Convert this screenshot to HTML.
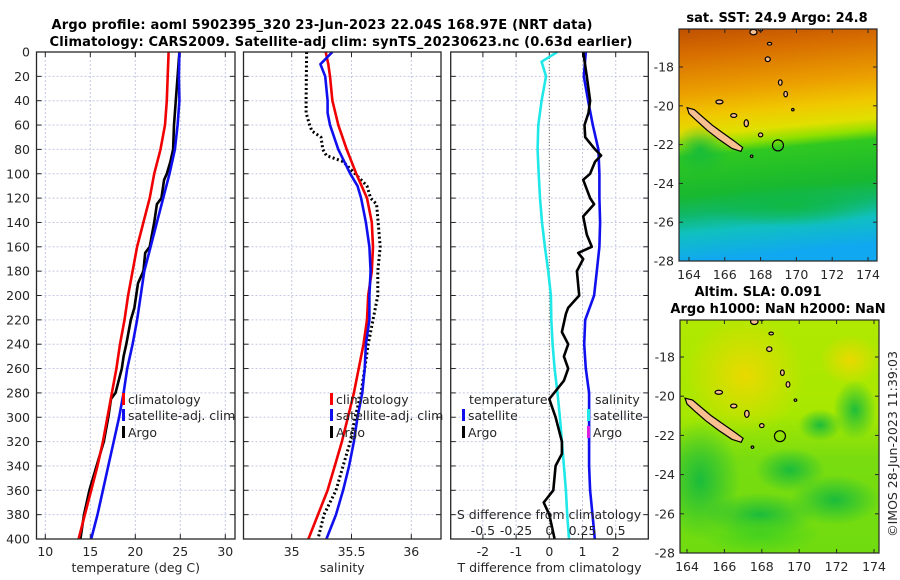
<!DOCTYPE html>
<html><head><meta charset="utf-8">
<style>
html,body{margin:0;padding:0;background:#fff;}
svg{display:block;font-family:"DejaVu Sans","Liberation Sans",sans-serif;}
.tk{font-size:12.5px;fill:#262626;}
.tt{font-size:13px;font-weight:bold;fill:#000;}
</style></head>
<body>
<svg id="fig" width="900" height="580" viewBox="0 0 900 580" xmlns="http://www.w3.org/2000/svg">
<defs>
<linearGradient id="sstg" x1="0" y1="0" x2="0.08" y2="1">
<stop offset="0" stop-color="#c05000"/>
<stop offset="0.12" stop-color="#d87000"/>
<stop offset="0.28" stop-color="#eca000"/>
<stop offset="0.38" stop-color="#f0c800"/>
<stop offset="0.46" stop-color="#e0e000"/>
<stop offset="0.51" stop-color="#90e000"/>
<stop offset="0.55" stop-color="#30c820"/>
<stop offset="0.72" stop-color="#18b830"/>
<stop offset="0.8" stop-color="#10b868"/>
<stop offset="0.88" stop-color="#10c0c0"/>
<stop offset="1" stop-color="#10a8f0"/>
</linearGradient>
<linearGradient id="slag" x1="0" y1="0" x2="0" y2="1">
<stop offset="0" stop-color="#b0e800"/>
<stop offset="0.4" stop-color="#a8e800"/>
<stop offset="0.6" stop-color="#78dc10"/>
<stop offset="1" stop-color="#70dc10"/>
</linearGradient>
<radialGradient id="yb" cx="0.5" cy="0.5" r="0.5"><stop offset="0" stop-color="#f0d800" stop-opacity="0.9"/><stop offset="1" stop-color="#f0d800" stop-opacity="0"/></radialGradient>
<radialGradient id="gb" cx="0.5" cy="0.5" r="0.5"><stop offset="0" stop-color="#10b840" stop-opacity="0.9"/><stop offset="1" stop-color="#10b840" stop-opacity="0"/></radialGradient>
<radialGradient id="lg" cx="0.5" cy="0.5" r="0.5"><stop offset="0" stop-color="#40d020" stop-opacity="0.9"/><stop offset="1" stop-color="#40d020" stop-opacity="0"/></radialGradient>
<clipPath id="c1"><rect x="679" y="29" width="198" height="232"/></clipPath>
<clipPath id="c2"><rect x="680" y="320" width="199" height="233"/></clipPath>
</defs>
<g id="titles">
<text class="tt" x="322" y="29" text-anchor="middle" textLength="541">Argo profile: aoml 5902395_320 23-Jun-2023 22.04S 168.97E (NRT data)</text>
<text class="tt" x="341" y="46" text-anchor="middle" textLength="583">Climatology: CARS2009. Satellite-adj clim: synTS_20230623.nc (0.63d earlier)</text>
</g>
<g id="panels"></g>
<g id="maps"></g>
</svg>
<script>
// ---- data ----
const depthTicks = [0,20,40,60,80,100,120,140,160,180,200,220,240,260,280,300,320,340,360,380,400];
const tTicks = [10,15,20,25,30];
const sTicks = [35,35.5,36];
const dTicks = [-2,-1,0,1,2];
const sdTickLabels = ["-0.5","-0.25","0","0.25","0.5"];
const sdTickValues = [-0.5,-0.25,0,0.25,0.5];

const tClimDepth = [0,40,60,80,100,120,140,160,180,200,220,240,260,280,300,320,340,360,380,400];
const tClim = [23.7,23.5,23.3,22.8,22.1,21.6,20.9,20.2,19.7,19.2,18.8,18.3,17.9,17.4,16.9,16.4,15.8,15.1,14.4,13.7];
const tSatDepth = [0,20,40,60,80,90,100,120,140,160,180,200,220,240,260,280,300,320,340,360,380,400];
const tSat = [24.9,24.85,24.9,24.7,24.4,24.1,23.8,23.1,22.4,21.7,21.0,20.6,20.2,19.7,19.1,18.7,18.2,17.6,17.0,16.4,15.8,15.1];
const tArgoDepth = [0,60,80,90,100,105,120,125,140,160,165,180,190,200,210,220,240,250,260,280,285,300,320,340,360,370,380,400];
const tArgo = [24.9,24.3,24.2,23.9,23.5,23.2,22.9,22.4,22.1,21.6,21.1,20.9,20.3,20.1,19.9,19.5,19.0,18.7,18.5,17.8,17.3,17.0,16.5,15.7,14.9,14.6,14.3,13.9];

const sClimDepth = [0,10,20,40,60,80,100,120,140,160,180,200,220,240,260,280,300,320,340,360,380,400];
const sClim = [35.284,35.306,35.32,35.34,35.39,35.46,35.54,35.63,35.67,35.68,35.67,35.64,35.63,35.6,35.56,35.52,35.47,35.42,35.36,35.30,35.22,35.14];
const sSatDepth = [0,10,20,40,50,60,80,100,110,120,140,160,180,200,220,240,260,280,300,320,340,360,380,400];
const sSat = [35.34,35.24,35.28,35.30,35.30,35.32,35.39,35.49,35.55,35.58,35.62,35.65,35.66,35.65,35.65,35.62,35.61,35.59,35.55,35.52,35.48,35.43,35.37,35.29];
const sArgoDepth = [0,40,50,60,65,70,80,85,90,100,110,120,125,160,180,200,220,240,260,280,300,320,340,360,380,400];
const sArgo = [35.125,35.12,35.12,35.15,35.17,35.245,35.26,35.29,35.43,35.53,35.63,35.66,35.71,35.74,35.72,35.72,35.68,35.64,35.61,35.58,35.53,35.49,35.43,35.37,35.27,35.22];

const dSatTDepth = [0,20,40,60,80,100,120,140,160,180,200,220,240,260,280,300,320,340,360,380,400];
const dSatT = [1.10,1.04,1.17,1.31,1.48,1.51,1.51,1.53,1.51,1.43,1.35,1.08,1.05,1.10,1.2,1.2,1.2,1.2,1.23,1.3,1.37];
const dArgoTDepth = [0,20,40,50,60,70,80,85,90,100,105,120,125,135,150,160,165,170,180,200,210,215,230,240,250,260,270,285,300,320,330,340,360,370,380,400];
const dArgoT = [1.02,1.13,1.23,1.18,1.06,1.08,1.38,1.56,1.38,1.23,1.02,1.23,1.35,1.02,1.13,1.28,0.87,1.02,0.83,0.9,0.57,0.5,0.38,0.57,0.44,0.57,0.44,0.0,0.19,0.38,0.38,0.19,0.12,-0.17,0.0,0.16];
const dSatSDepth = [0,8,20,40,60,80,100,120,140,160,180,200,220,240,260,280,300,320,340,360,380,400];
const dSatS = [0.06,-0.058,-0.025,-0.058,-0.083,-0.088,-0.08,-0.07,-0.055,-0.033,-0.008,0.012,0.015,0.025,0.04,0.062,0.08,0.095,0.11,0.125,0.135,0.148];

// ---- axes ----
const Y0 = 52, Y1 = 539;
const yD = d => Y0 + d*(Y1-Y0)/400;
const xT = t => 45.3 + (t-10)*9.0;
const xS = s => 291.7 + (s-35)*119.6;
const xDT = t => 549.3 + t*33.2;
const xDS = s => 549.3 + s*4*33.2;

const NS = "http://www.w3.org/2000/svg";
const panelsG = document.getElementById('panels');
function mk(tag, attrs, parent){ const e=document.createElementNS(NS,tag); for(const k in attrs) e.setAttribute(k,attrs[k]); (parent||panelsG).appendChild(e); return e; }

const panels = [
 {name:'temperature-panel', x0:36.5, x1:235, ticks:tTicks, fx:xT, label:'temperature (deg C)'},
 {name:'salinity-panel', x0:243.5, x1:441, ticks:sTicks, fx:xS, label:'salinity'},
 {name:'difference-panel', x0:450.7, x1:648.3, ticks:dTicks, fx:xDT, label:'T difference from climatology'}
];
panels.forEach((p,pi)=>{
  const g = mk('g',{});
  
  
  depthTicks.forEach(d=>{
    const l=mk('line',{x1:p.x0,x2:p.x1,y1:yD(d),y2:yD(d),stroke:'#c4c8e4','stroke-width':1,'stroke-dasharray':'2,2'},g);
    
    
    mk('line',{x1:p.x0,x2:p.x0+5,y1:yD(d),y2:yD(d),stroke:'#262626'},g);
    mk('line',{x1:p.x1-5,x2:p.x1,y1:yD(d),y2:yD(d),stroke:'#262626'},g);
  });
  p.ticks.forEach(v=>{
    const x=p.fx(v);
    const l=mk('line',{x1:x,x2:x,y1:Y0,y2:Y1,stroke:'#c4c8e4','stroke-width':1,'stroke-dasharray':'2,2'},g);
    
    
    mk('line',{x1:x,x2:x,y1:Y1-5,y2:Y1,stroke:'#262626'},g);
    mk('line',{x1:x,x2:x,y1:Y0,y2:Y0+5,stroke:'#262626'},g);
    const t=mk('text',{x:x,y:556,'text-anchor':'middle',class:'tk'},g);
    t.textContent = String(v);
    
    
  });
  const xl=mk('text',{x:(p.x0+p.x1)/2,y:572,'text-anchor':'middle',class:'tk'},g);
  xl.textContent=p.label;
  
  
});
depthTicks.forEach(d=>{
  const t=mk('text',{x:30,y:yD(d)+4.5,'text-anchor':'end',class:'tk'});
  t.textContent=String(d);
  
  
});
const zl=mk('line',{x1:xDT(0),x2:xDT(0),y1:Y0,y2:Y1,stroke:'#7a6a50','stroke-width':1,'stroke-dasharray':'1,2'});



function series(depths, vals, fx, color, name, dash){
  const pts = depths.map((d,i)=> fx(vals[i]).toFixed(1)+','+yD(d).toFixed(1)).join(' ');
  const a={points:pts,fill:'none',stroke:color,'stroke-width':dash?3:2.6,'stroke-linejoin':'round'};
  if(dash) a['stroke-dasharray']=dash;
  const e=mk('polyline',a);
  
  
}
series(tArgoDepth,tArgo,xT,'#000','temp-argo-line');
series(tSatDepth,tSat,xT,'#1010ee','temp-satellite-line');
series(tClimDepth,tClim,xT,'#f00000','temp-climatology-line');
series(sArgoDepth,sArgo,xS,'#000','sal-argo-line','2,2.5');
series(sClimDepth,sClim,xS,'#f00000','sal-climatology-line');
series(sSatDepth,sSat,xS,'#1010ee','sal-satellite-line');
series(dSatSDepth,dSatS,xDS,'#20e8e8','sdiff-satellite-line');
series(dSatTDepth,dSatT,xDT,'#1010ee','tdiff-satellite-line');
series(dArgoTDepth,dArgoT,xDT,'#000','tdiff-argo-line');

panels.forEach(p=>{
  const r=mk('rect',{x:p.x0,y:Y0,width:p.x1-p.x0,height:Y1-Y0,fill:'none',stroke:'#262626','stroke-width':1.3});
  
  
});

function legend(x, rows){
  rows.forEach(r=>{
    const m=mk('rect',{x:x,y:r.y-8,width:3,height:12,fill:r.c});
    
    
    const t=mk('text',{x:x+6,y:r.y+3,class:'tk',fill:'#262626','font-size':'13.5'});
    t.textContent=r.t;
    
    
  });
}
legend(122,[{y:401,c:'#f00',t:'climatology'},{y:417,c:'#1010ee',t:'satellite-adj. clim'},{y:434,c:'#000',t:'Argo'}]);
legend(330,[{y:401,c:'#f00',t:'climatology'},{y:417,c:'#1010ee',t:'satellite-adj. clim'},{y:434,c:'#000',t:'Argo'}]);
legend(462,[{y:417,c:'#1010ee',t:'satellite'},{y:434,c:'#000',t:'Argo'}]);
legend(587,[{y:417,c:'#20e8e8',t:'satellite'},{y:434,c:'#e020e0',t:'Argo'}]);
[['temperature',469,404],['salinity',595,404]].forEach(a=>{
  const t=mk('text',{x:a[1],y:a[2],class:'tk','font-size':'13.5'}); t.textContent=a[0];
  
  
});
const sdt=mk('text',{x:549,y:519,'text-anchor':'middle',class:'tk','font-size':'13.5'});
sdt.textContent='S difference from climatology';


sdTickValues.forEach((v,i)=>{
  const t=mk('text',{x:xDS(v),y:535,'text-anchor':'middle',class:'tk','font-size':'13.5'});
  t.textContent=sdTickLabels[i];
  
  
});

// ---- maps ----
const mapsG=document.getElementById('maps');
const lonTicks=[164,166,168,170,172,174];
const latTicks=[-18,-20,-22,-24,-26,-28];
const ncal=[[163.9,-20.1],[164.3,-20.2],[164.8,-20.6],[165.3,-21.0],[165.9,-21.4],[166.5,-21.8],[167.0,-22.15],[166.9,-22.35],[166.4,-22.2],[165.7,-21.75],[165.0,-21.25],[164.4,-20.75],[164.0,-20.4]];
const isl=[[165.7,-19.8,0.2,0.1],[166.5,-20.5,0.17,0.1],[167.2,-20.9,0.12,0.18],[168.0,-21.5,0.12,0.1],[167.6,-16.2,0.2,0.14],[168.0,-16.05,0.12,0.1],[168.4,-17.6,0.14,0.12],[169.1,-18.8,0.1,0.14],[169.4,-19.4,0.1,0.14],[169.8,-20.2,0.07,0.06],[167.5,-22.6,0.07,0.06],[168.5,-16.8,0.12,0.07]];
const argoPos=[168.97,-22.04];
function mkm(tag,attrs,parent){ const e=document.createElementNS(NS,tag); for(const k in attrs) e.setAttribute(k,attrs[k]); (parent||mapsG).appendChild(e); return e; }

function drawMap(m){
  const g=mkm('g',{});
  
  
  const lx=l=>m.lx0+(l-164)*m.kx, ly=l=>m.ly0+(-18-l)*m.ky;
  const inner=mkm('g',{'clip-path':m.clip},g);
  m.fill(inner,lx,ly);
  const poly=mkm('polygon',{points:ncal.map(p=>lx(p[0]).toFixed(1)+','+ly(p[1]).toFixed(1)).join(' '),fill:'#f8c090',stroke:'#000','stroke-width':1.2},inner);
  
  
  isl.forEach(a=>{
    const e=mkm('ellipse',{cx:lx(a[0]),cy:ly(a[1]),rx:a[2]*m.kx,ry:a[3]*m.ky,fill:'#f8c090',stroke:'#000','stroke-width':1.2},inner);
    
    
  });
  const c=mkm('circle',{cx:lx(argoPos[0]),cy:ly(argoPos[1]),r:5.5,fill:'none',stroke:'#000','stroke-width':1.2},g);
  
  
  mkm('rect',{x:m.x0,y:m.y0,width:m.w,height:m.h,fill:'none',stroke:'#262626','stroke-width':1.2},g);
  lonTicks.forEach(l=>{
    const x=lx(l);
    mkm('line',{x1:x,x2:x,y1:m.y0,y2:m.y0+4,stroke:'#262626'},g);
    mkm('line',{x1:x,x2:x,y1:m.y0+m.h-4,y2:m.y0+m.h,stroke:'#262626'},g);
    const t=mkm('text',{x:x,y:m.xlY,'text-anchor':'middle',class:'tk'},g);
    t.textContent=String(l);
    
    
  });
  latTicks.forEach(l=>{
    const y=ly(l);
    mkm('line',{x1:m.x0,x2:m.x0+4,y1:y,y2:y,stroke:'#262626'},g);
    mkm('line',{x1:m.x0+m.w-4,x2:m.x0+m.w,y1:y,y2:y,stroke:'#262626'},g);
    const t=mkm('text',{x:m.x0-5,y:y+4.5,'text-anchor':'end',class:'tk'},g);
    t.textContent=String(l);
    
    
  });
}
drawMap({name:'sst-map',x0:679,y0:29,w:198,h:232,lx0:689,kx:17.9,ly0:67,ky:19.4,xlY:279,clip:'url(#c1)',
 fill:(g,lx,ly)=>{
  mkm('rect',{x:679,y:29,width:198,height:232,fill:'url(#sstg)'},g);
  mkm('ellipse',{cx:700,cy:150,rx:30,ry:25,fill:'url(#gb)'},g);
  mkm('ellipse',{cx:790,cy:205,rx:90,ry:22,fill:'url(#gb)'},g);
 }});
drawMap({name:'sla-map',x0:680,y0:320,w:199,h:233,lx0:687,kx:18.7,ly0:357,ky:19.6,xlY:571,clip:'url(#c2)',
 fill:(g,lx,ly)=>{
  mkm('rect',{x:680,y:320,width:199,height:233,fill:'url(#slag)'},g);
  mkm('ellipse',{cx:745,cy:375,rx:60,ry:60,fill:'url(#yb)'},g);
  mkm('ellipse',{cx:850,cy:360,rx:30,ry:25,fill:'url(#yb)'},g);
  mkm('ellipse',{cx:700,cy:480,rx:40,ry:60,fill:'url(#gb)'},g);
  mkm('ellipse',{cx:790,cy:470,rx:35,ry:22,fill:'url(#gb)'},g);
  mkm('ellipse',{cx:760,cy:515,rx:55,ry:22,fill:'url(#gb)'},g);
  mkm('ellipse',{cx:835,cy:500,rx:45,ry:25,fill:'url(#gb)'},g);
  mkm('ellipse',{cx:855,cy:410,rx:22,ry:30,fill:'url(#gb)'},g);
  mkm('ellipse',{cx:820,cy:425,rx:22,ry:16,fill:'url(#gb)'},g);
  mkm('ellipse',{cx:760,cy:535,rx:60,ry:20,fill:'url(#lg)'},g);
 }});
[['sat. SST: 24.9  Argo: 24.8',777,22,'sst-map-title'],['Altim. SLA: 0.091',758,296,'altim-sla-title'],['Argo h1000: NaN h2000: NaN',778,313,'argo-height-title']].forEach(a=>{
  const t=mkm('text',{x:a[1],y:a[2],'text-anchor':'middle',class:'tt'});
  t.textContent=a[0];
  
  
});
const ts=mkm('text',{x:0,y:0,'text-anchor':'middle',class:'tk',transform:'translate(897,444) rotate(-90)'});
ts.textContent='©IMOS 28-Jun-2023 11:39:03';


</script>
</body></html>
